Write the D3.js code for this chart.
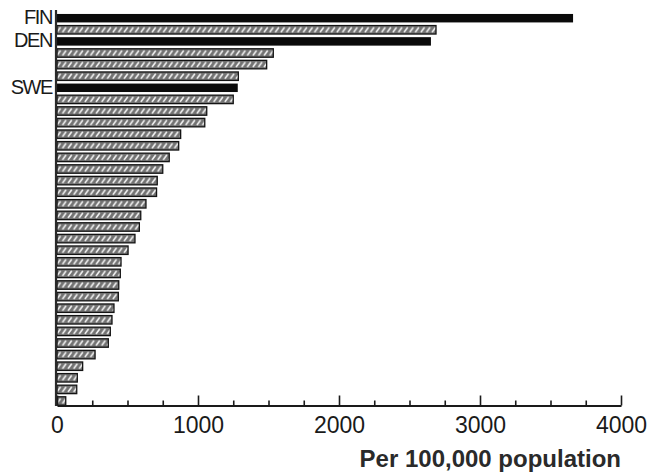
<!DOCTYPE html>
<html>
<head>
<meta charset="utf-8">
<script src="https://cdn.jsdelivr.net/npm/d3@7"></script>
<style>
  html, body { margin: 0; padding: 0; background: #fff; }
  svg { display: block; }
</style>
</head>
<body>
<svg id="chart" width="651" height="474"></svg>
<script>
// Country labels (only the Nordic countries are named on the chart)
const labels = ["FIN", "", "DEN", "", "", "", "SWE", "", "", "", "", "", "", "", "", "",
                "", "", "", "", "", "", "", "", "", "", "", "", "", "", "", "", "", ""];
// Rate per 100,000 population, one value per country, highest first
const values = [3660, 2688, 2652, 1534, 1487, 1286, 1282, 1250, 1062, 1048, 877, 863,
                796, 750, 711, 706, 631, 594, 584, 553, 504, 454, 449, 438, 435, 404,
                390, 378, 364, 270, 182, 144, 140, 62];
// Axis tick labels
const majorTicks = [0, 1000, 2000, 3000, 4000];
const minorTicks = [250, 500, 750, 1250, 1500, 1750, 2250, 2500, 2750, 3250, 3500, 3750];
const axisTitle = "Per 100,000 population";

const rows = values.map((v, i) => ({ i, v, label: labels[i] }));

const svg = d3.select("#chart");

const x = d3.scaleLinear().domain([0, 4000]).range([57, 621]);
const y = d3.scaleBand()
  .domain(rows.map(r => r.i))
  .range([12.8, 406.4])
  .paddingInner(0.27)
  .paddingOuter(0.1);

// Hatched fill: grey band with a row of short white slashes
const defs = svg.append("defs");
const pat = defs.append("pattern")
  .attr("id", "hatch")
  .attr("patternUnits", "userSpaceOnUse")
  .attr("x", 0)
  .attr("y", y(0))
  .attr("width", 5.6)
  .attr("height", y.step());
pat.append("rect")
  .attr("width", 5.6).attr("height", y.step())
  .attr("fill", "#727272");
pat.append("line")
  .attr("x1", 1.2).attr("y1", y.bandwidth() / 2 + 2)
  .attr("x2", 4.2).attr("y2", y.bandwidth() / 2 - 2)
  .attr("stroke", "#f4f4f4")
  .attr("stroke-width", 1.6)
  .attr("stroke-linecap", "round");

// Bars
svg.append("g").selectAll("rect")
  .data(rows)
  .join("rect")
  .attr("x", x(0))
  .attr("y", r => y(r.i))
  .attr("width", r => x(r.v) - x(0))
  .attr("height", y.bandwidth())
  .attr("fill", r => r.label ? "#0a0a0a" : "url(#hatch)")
  .attr("stroke", r => r.label ? "none" : "#141414")
  .attr("stroke-width", 1.3);

// Vertical axis line
svg.append("line")
  .attr("x1", x(0) - 1).attr("x2", x(0) - 1)
  .attr("y1", 10).attr("y2", 406)
  .attr("stroke", "#2a2a2a")
  .attr("stroke-width", 2.2);

// Country labels
svg.append("g").selectAll("text")
  .data(rows.filter(r => r.label))
  .join("text")
  .attr("x", 52)
  .attr("y", r => y(r.i) + y.bandwidth() / 2)
  .attr("dy", "0.3em")
  .attr("text-anchor", "end")
  .attr("font-family", "Liberation Sans, Arial, sans-serif")
  .attr("font-size", 20)
  .attr("letter-spacing", -1.4)
  .attr("fill", "#1a1a1a")
  .text(r => r.label);

// Horizontal axis: major ticks with labels, minor ticks without
const axisY = 405.5;
const major = svg.append("g")
  .attr("transform", `translate(0,${axisY})`)
  .call(d3.axisBottom(x)
    .tickValues(majorTicks)
    .tickSizeInner(-10)
    .tickSizeOuter(0)
    .tickPadding(11)
    .tickFormat(d3.format("d")));
major.select(".domain").attr("stroke", "#1a1a1a").attr("stroke-width", 2.2);
major.selectAll(".tick line").attr("stroke", "#1a1a1a").attr("stroke-width", 1.6);
major.selectAll(".tick text")
  .attr("font-family", "Liberation Sans, Arial, sans-serif")
  .attr("font-size", 23)
  .attr("fill", "#1a1a1a");

const minor = svg.append("g")
  .attr("transform", `translate(0,${axisY})`)
  .call(d3.axisBottom(x)
    .tickValues(minorTicks)
    .tickSizeInner(-5)
    .tickSizeOuter(0)
    .tickFormat(""));
minor.select(".domain").remove();
minor.selectAll(".tick line").attr("stroke", "#1a1a1a").attr("stroke-width", 1.6);

// Axis title
svg.append("text")
  .attr("x", 621)
  .attr("y", 467)
  .attr("text-anchor", "end")
  .attr("font-family", "Liberation Sans, Arial, sans-serif")
  .attr("font-size", 24)
  .attr("font-weight", "bold")
  .attr("fill", "#2a2a2a")
  .text(axisTitle);
</script>
</body>
</html>
